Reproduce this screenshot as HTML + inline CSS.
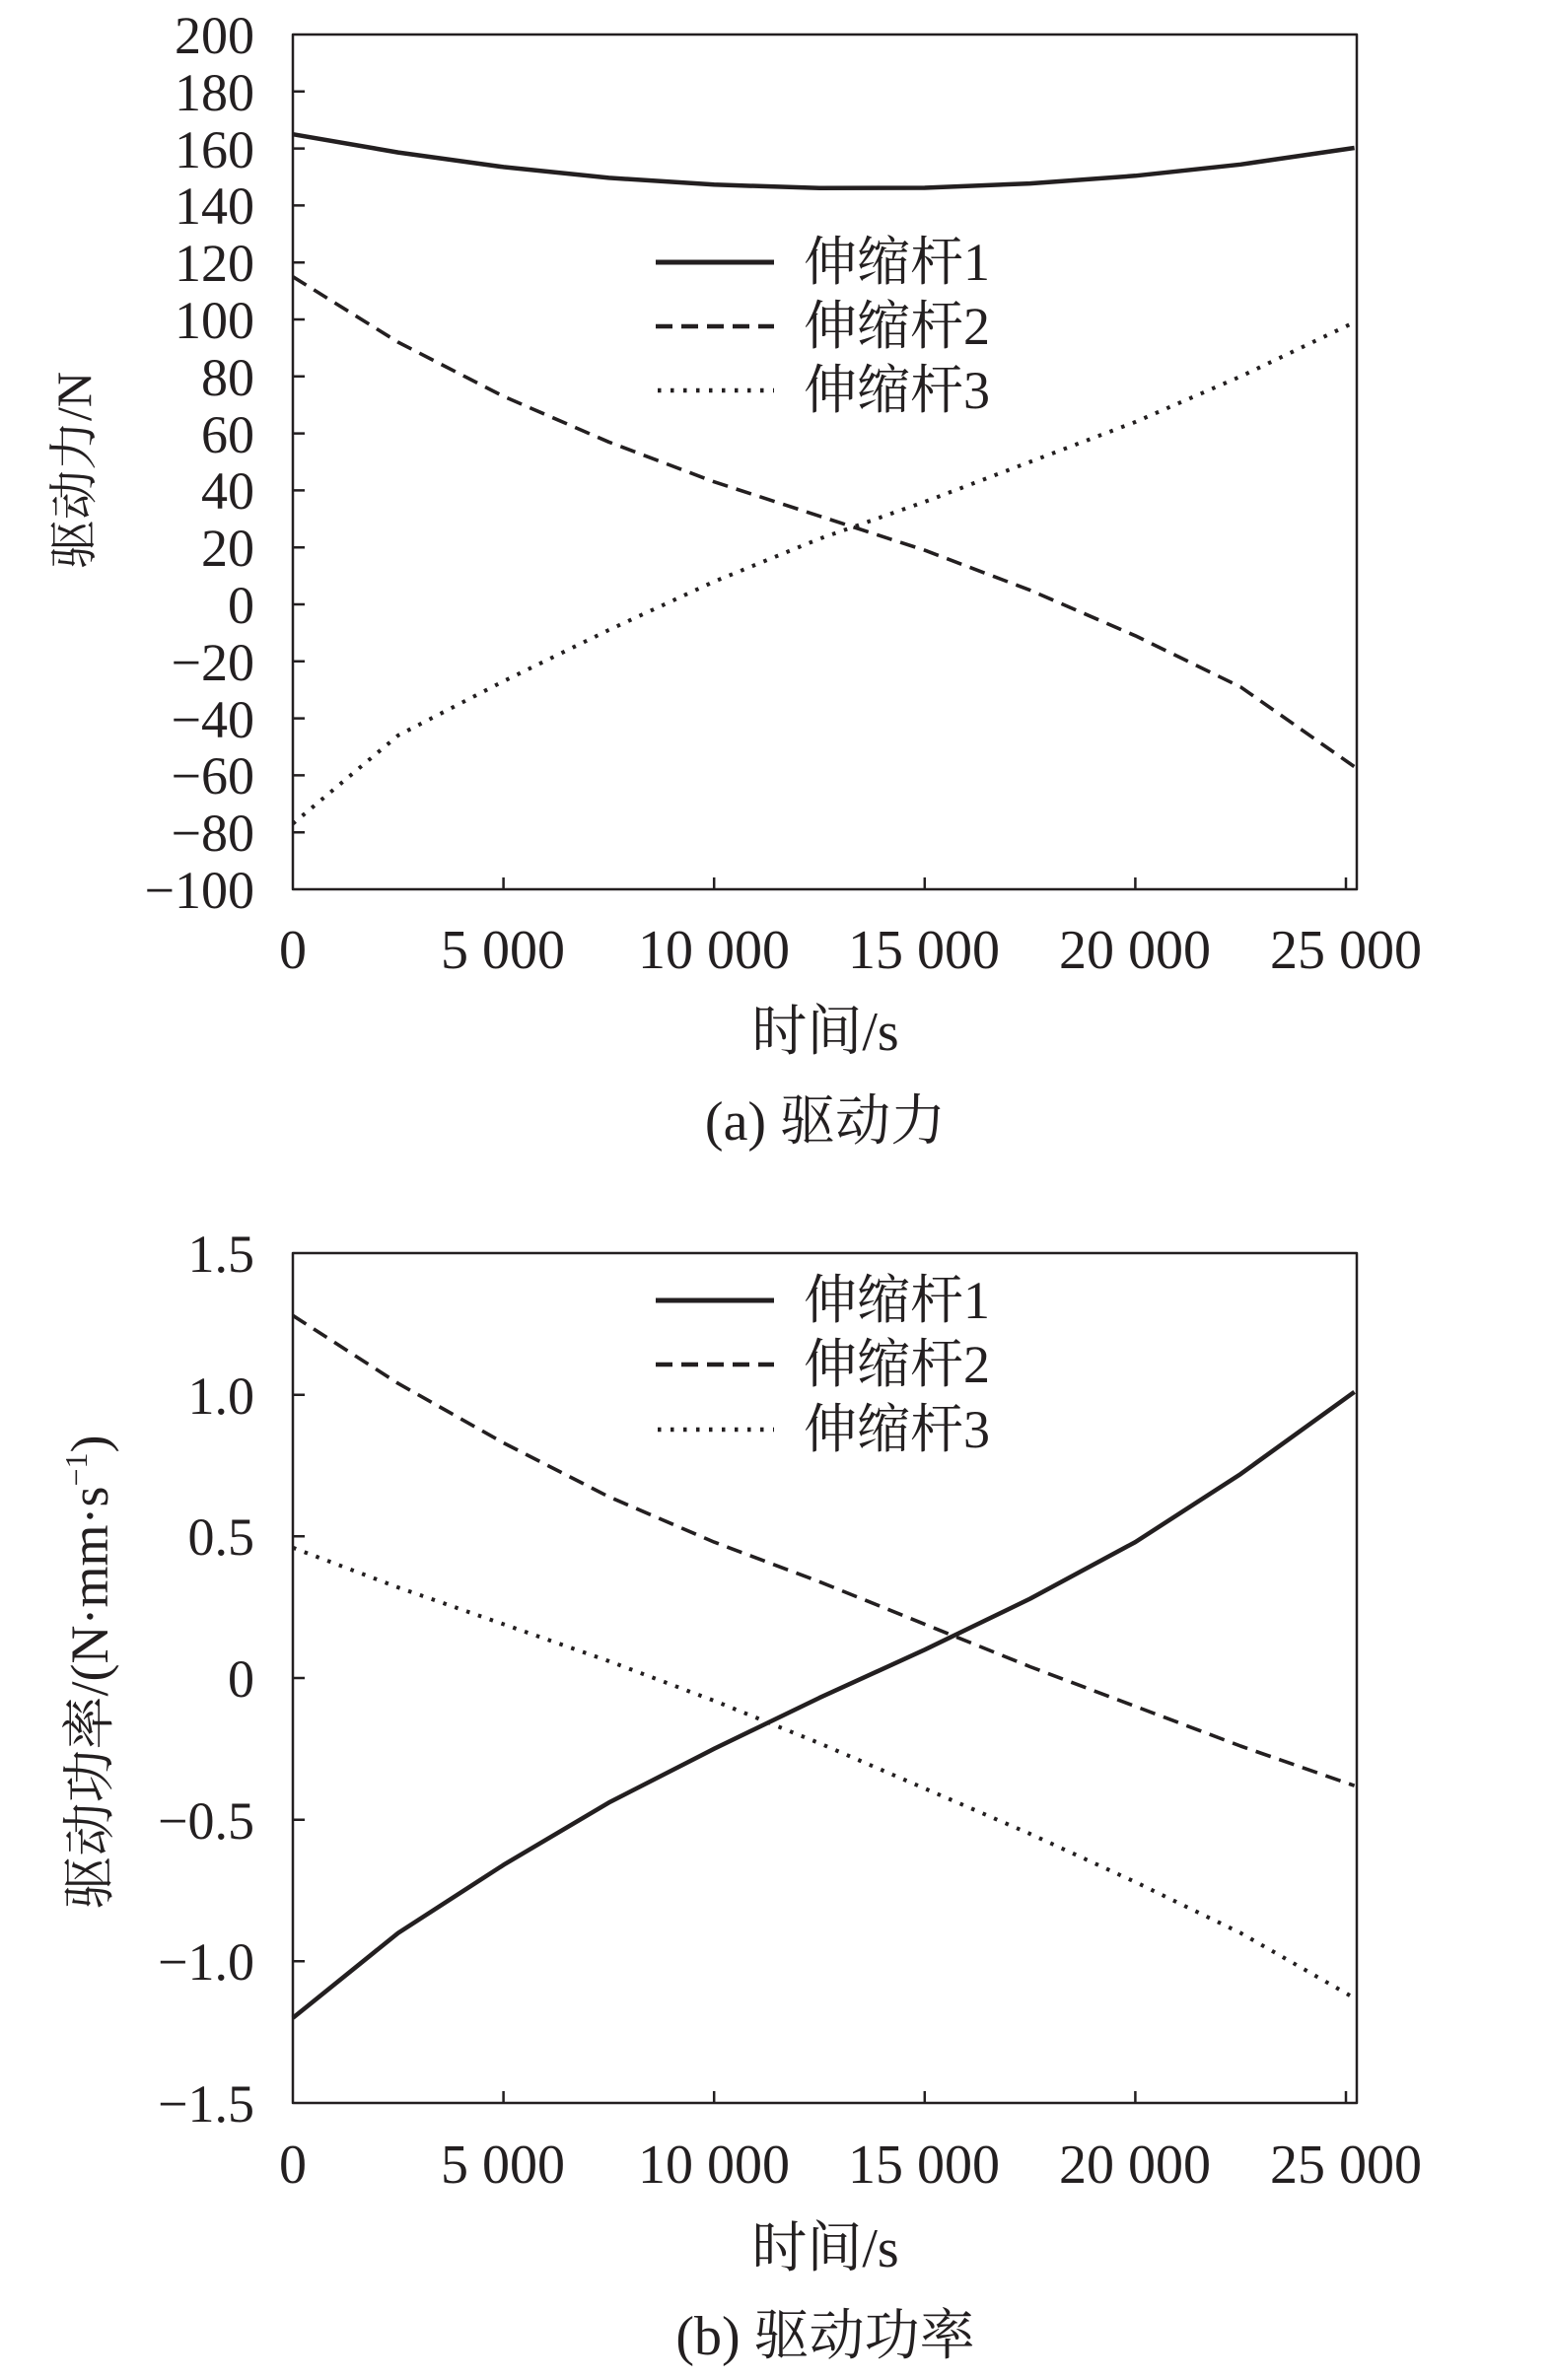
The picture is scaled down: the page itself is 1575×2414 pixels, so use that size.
<!DOCTYPE html>
<html><head><meta charset="utf-8"><style>
html,body{margin:0;padding:0;background:#fff;}
svg{display:block;}
text{font-family:"Liberation Serif","Noto Serif CJK SC","Noto Sans CJK SC",serif;fill:#231f20;}
</style></head><body>
<svg width="1575" height="2414" viewBox="0 0 1575 2414" xmlns="http://www.w3.org/2000/svg">
<g stroke="#231f20" fill="none" stroke-linejoin="round">
<rect x="297" y="35" width="1079" height="867" stroke-width="2.5"/>
<g stroke-width="2.5">
<line x1="510.6" y1="902" x2="510.6" y2="890"/><line x1="724.2" y1="902" x2="724.2" y2="890"/><line x1="937.8" y1="902" x2="937.8" y2="890"/><line x1="1151.4" y1="902" x2="1151.4" y2="890"/><line x1="1365" y1="902" x2="1365" y2="890"/>
<path d="M297 92.8h12M297 150.6h12M297 208.4h12M297 266.2h12M297 324h12M297 381.8h12M297 439.6h12M297 497.4h12M297 555.2h12M297 613h12M297 670.8h12M297 728.6h12M297 786.4h12M297 844.2h12"/>
</g>
<polyline stroke-width="4.5" points="297,136.2 403.8,154.6 510.6,169.4 617.4,180.4 724.2,187.3 831,190.8 937.8,190.5 1044.6,186.1 1151.4,178.3 1258.2,166.8 1373.6,150"/>
<polyline stroke-width="3.6" stroke-dasharray="16 9" points="297,280.7 403.8,347.1 510.6,402 617.4,448.3 724.2,488.7 831,523.4 937.8,558.1 1044.6,598.6 1151.4,644.8 1258.2,696.8 1373.6,777.7"/>
<polyline stroke-width="4" stroke-dasharray="3.5 9" points="297,835.5 403.8,745.9 510.6,691 617.4,639 724.2,589.9 831,546.5 937.8,509 1044.6,468.5 1151.4,428 1258.2,381.8 1373.6,326.9"/>
<line x1="665" y1="266" x2="785" y2="266" stroke-width="5"/>
<line x1="665" y1="331" x2="785" y2="331" stroke-width="4.5" stroke-dasharray="17 9"/>
<line x1="667" y1="396" x2="785" y2="396" stroke-width="4.5" stroke-dasharray="3.5 9.5"/>

<rect x="297" y="1271" width="1079" height="862" stroke-width="2.5"/>
<g stroke-width="2.5">
<line x1="510.6" y1="2133" x2="510.6" y2="2121"/><line x1="724.2" y1="2133" x2="724.2" y2="2121"/><line x1="937.8" y1="2133" x2="937.8" y2="2121"/><line x1="1151.4" y1="2133" x2="1151.4" y2="2121"/><line x1="1365" y1="2133" x2="1365" y2="2121"/>
<path d="M297 1414.7h12M297 1558.3h12M297 1702h12M297 1845.7h12M297 1989.3h12"/>
</g>
<polyline stroke-width="4.5" points="297,2046.8 403.8,1960.6 510.6,1891.6 617.4,1828.4 724.2,1773.8 831,1722.1 937.8,1673.3 1044.6,1621.6 1151.4,1564.1 1258.2,1495.1 1373.6,1411.8"/>
<polyline stroke-width="3.6" stroke-dasharray="16 9" points="297,1334.3 403.8,1403.2 510.6,1463.5 617.4,1518.1 724.2,1564.1 831,1604.3 937.8,1647.4 1044.6,1690.5 1151.4,1730.7 1258.2,1771 1373.6,1811.2"/>
<polyline stroke-width="4" stroke-dasharray="3.5 9" points="297,1569.8 403.8,1610.1 510.6,1647.4 617.4,1684.8 724.2,1725 831,1768.1 937.8,1814 1044.6,1860 1151.4,1908.9 1258.2,1960.6 1373.6,2026.6"/>
<line x1="665" y1="1319" x2="785" y2="1319" stroke-width="5"/>
<line x1="665" y1="1384" x2="785" y2="1384" stroke-width="4.5" stroke-dasharray="17 9"/>
<line x1="667" y1="1450" x2="785" y2="1450" stroke-width="4.5" stroke-dasharray="3.5 9.5"/>
</g>

<g font-size="54" text-anchor="end">
<text x="258" y="54">200</text><text x="258" y="112">180</text><text x="258" y="170">160</text><text x="258" y="227">140</text><text x="258" y="285">120</text><text x="258" y="343">100</text><text x="258" y="401">80</text><text x="258" y="459">60</text><text x="258" y="516">40</text><text x="258" y="574">20</text><text x="258" y="632">0</text><text x="258" y="690">−20</text><text x="258" y="748">−40</text><text x="258" y="805">−60</text><text x="258" y="863">−80</text><text x="258" y="921">−100</text>
</g>
<g font-size="56" text-anchor="middle">
<text x="297" y="982">0</text><text x="510" y="982">5 000</text><text x="724" y="982">10 000</text><text x="937" y="982">15 000</text><text x="1151" y="982">20 000</text><text x="1365" y="982">25 000</text>
<text x="837" y="1065">时间/s</text>
<text x="837" y="1156">(a) 驱动力</text>
</g>
<text font-size="50" text-anchor="middle" transform="translate(92,477) rotate(-90)">驱动力/N</text>
<g font-size="54">
<text x="815" y="284">伸缩杆1</text><text x="815" y="349">伸缩杆2</text><text x="815" y="414">伸缩杆3</text>
</g>

<g font-size="54" text-anchor="end">
<text x="258" y="1290">1.5</text><text x="258" y="1434">1.0</text><text x="258" y="1577">0.5</text><text x="258" y="1721">0</text><text x="258" y="1865">−0.5</text><text x="258" y="2008">−1.0</text><text x="258" y="2152">−1.5</text>
</g>
<g font-size="56" text-anchor="middle">
<text x="297" y="2214">0</text><text x="510" y="2214">5 000</text><text x="724" y="2214">10 000</text><text x="937" y="2214">15 000</text><text x="1151" y="2214">20 000</text><text x="1365" y="2214">25 000</text>
<text x="837" y="2299">时间/s</text>
<text x="837" y="2388">(b) 驱动功率</text>
</g>
<text font-size="54" text-anchor="middle" transform="translate(109,1696) rotate(-90)">驱动功率/(N·mm·s<tspan font-size="32" dy="-21">−1</tspan><tspan dy="21">)</tspan></text>
<g font-size="54">
<text x="815" y="1337">伸缩杆1</text><text x="815" y="1402">伸缩杆2</text><text x="815" y="1468">伸缩杆3</text>
</g>
</svg>
</body></html>
